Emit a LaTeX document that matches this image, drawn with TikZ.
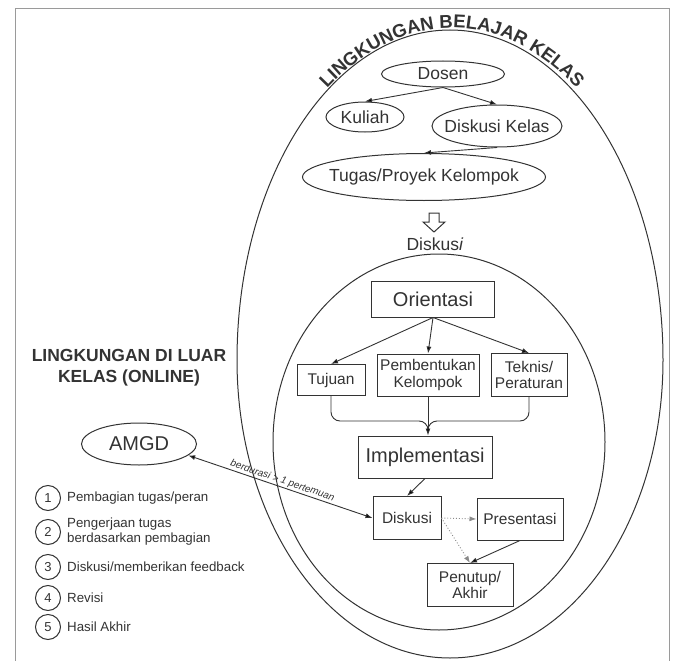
\documentclass[tikz,border=0pt]{standalone}
\usepackage{fontspec}
\setmainfont{Liberation Sans}
\usetikzlibrary{shapes.geometric,arrows.meta,decorations.text}
\definecolor{ink}{HTML}{333333}
\definecolor{rim}{HTML}{9A9A9A}
\definecolor{dots}{HTML}{8A8A8A}

\begin{document}
\begin{tikzpicture}[x=1pt,y=-1pt,
  every node/.style={text=ink},
  oval/.style={ellipse, draw=ink, line width=1pt, inner sep=0pt, font=\fontsize{17.5}{19}\selectfont},
  box/.style={rectangle, draw=ink, line width=1pt, inner sep=2pt, align=center, font=\fontsize{15.5}{16.5}\selectfont},
  num/.style={circle, draw=ink, line width=1pt, inner sep=0pt, minimum size=25pt, font=\fontsize{13}{13}\selectfont},
  flow/.style={-{Latex[length=7pt,width=5pt]}, draw=ink, line width=0.9pt}]

  \useasboundingbox (0,0) rectangle (675,661);
  % Frame
  \draw[rim, line width=0.8pt] (15,661) -- (15,8) -- (669,8) -- (669,661);

  % Environments (egg shaped outer, round inner)
  \draw[ink, line width=1pt] (237,360) arc [start angle=180, end angle=360, x radius=213, y radius=330]
    arc [start angle=0, end angle=180, x radius=213, y radius=298];
  \draw[ink, line width=1pt] (439,442) ellipse [x radius=166, y radius=188];
  \path[decorate, decoration={text along path, text align=center, text color=ink,
      text={|\bfseries\fontsize{18.5}{20}\selectfont|LINGKUNGAN BELAJAR KELAS}}]
    (452,362) ++(200:217 and 334) arc [start angle=200, end angle=340, x radius=217, y radius=334];

  % Classroom
  \node[oval, minimum width=123pt, minimum height=26pt] (dosen) at (443,74) {\makebox[0pt]{Dosen}};
  \node[oval, minimum width=78pt, minimum height=30pt] (kuliah) at (365,117) {\makebox[0pt]{Kuliah}};
  \node[oval, minimum width=130pt, minimum height=42pt] (diskkelas) at (497,126) {\makebox[0pt]{Diskusi Kelas}};
  \node[oval, minimum width=243pt, minimum height=47pt] (tugas) at (424,177) {\makebox[0pt]{Tugas/Proyek Kelompok}};

  \draw[flow] (dosen.south) -- (kuliah.north);
  \draw[flow] (dosen.south) -- (diskkelas.north);
  \draw[flow] (diskkelas.south) -- (tugas.north);

  % Hollow arrow and discussion label
  \draw[ink, line width=1pt] (429,213) -- (439,213) -- (439,222) -- (445,222) -- (434,232) -- (423,222) -- (429,222) -- cycle;
  \node[font=\fontsize{17.5}{19}\selectfont] (dlabel) at (435,244) {Diskus\textit{i}};

  % Discussion steps
  \node[box, minimum width=123pt, minimum height=36pt, font=\fontsize{20}{22}\selectfont] (orientasi) at (433,299) {Orientasi};
  \node[box, minimum width=68pt, minimum height=31pt] (tujuan) at (331,380) {Tujuan};
  \node[box, minimum width=102pt, minimum height=42pt] (pembentukan) at (428,375) {Pembentukan\\Kelompok};
  \node[box, minimum width=76pt, minimum height=43pt] (teknis) at (529,375) {Teknis/\\Peraturan};
  \node[box, minimum width=134pt, minimum height=42pt, font=\fontsize{20}{22}\selectfont] (implementasi) at (425,457) {Implementasi};
  \node[box, minimum width=68pt, minimum height=43pt] (diskusi) at (407,518) {Diskusi};
  \node[box, minimum width=86pt, minimum height=42pt] (presentasi) at (520,519) {Presentasi};
  \node[box, minimum width=86pt, minimum height=43pt] (penutup) at (470,585) {Penutup/\\Akhir};

  \draw[flow] (orientasi.south) -- (tujuan.north);
  \draw[flow] (orientasi.south) -- (pembentukan.north);
  \draw[flow] (orientasi.south) -- (teknis.north);

  \coordinate (join) at (428,421);
  \draw[ink, line width=0.9pt, rounded corners=9pt] (tujuan.south) |- (join) -- ++(0,10);
  \draw[ink, line width=0.9pt, rounded corners=9pt] (teknis.south) |- (join) -- ++(0,10);
  \draw[flow] (pembentukan.south) -- (pembentukan.south |- implementasi.north);

  \draw[flow] (implementasi.south) -- (diskusi.north);
  \draw[flow, draw=dots, dotted] (diskusi.east) -- (presentasi.west);
  \draw[flow, draw=dots, dotted] (diskusi.east) -- (penutup.north);
  \draw[flow] (presentasi.south) -- (penutup.north);

  % Outside the classroom
  \node[font=\bfseries\fontsize{17.5}{21}\selectfont, align=center] (luar) at (129,368) {LINGKUNGAN DI LUAR\\KELAS (ONLINE)};
  \node[oval, minimum width=115pt, minimum height=42pt, font=\fontsize{20}{22}\selectfont] (amgd) at (139,444) {\makebox[0pt]{AMGD}};
  \draw[{Latex[length=7pt,width=5pt]}-{Latex[length=7pt,width=5pt]}, draw=ink, line width=0.9pt] (amgd.-13) --
    node[sloped, above, inner sep=1pt, font=\itshape\fontsize{10}{10}\selectfont] {berdurasi > 1 pertemuan} (diskusi.west);

  % Steps online
  \foreach \n/\y/\t in {1/498/{Pembagian tugas/peran}, 2/532/{Pengerjaan tugas\\berdasarkan pembagian},
      3/567/{Diskusi/memberikan feedback}, 4/598/Revisi, 5/627/{Hasil Akhir}} {
    \node[num] (n\n) at (48,\y) {\n};
    \node[anchor=west, align=left, inner sep=1pt, xshift=5pt, font=\fontsize{13.3}{15}\selectfont] (t\n) at (n\n.east) {\t};
  }

\end{tikzpicture}
\end{document}
